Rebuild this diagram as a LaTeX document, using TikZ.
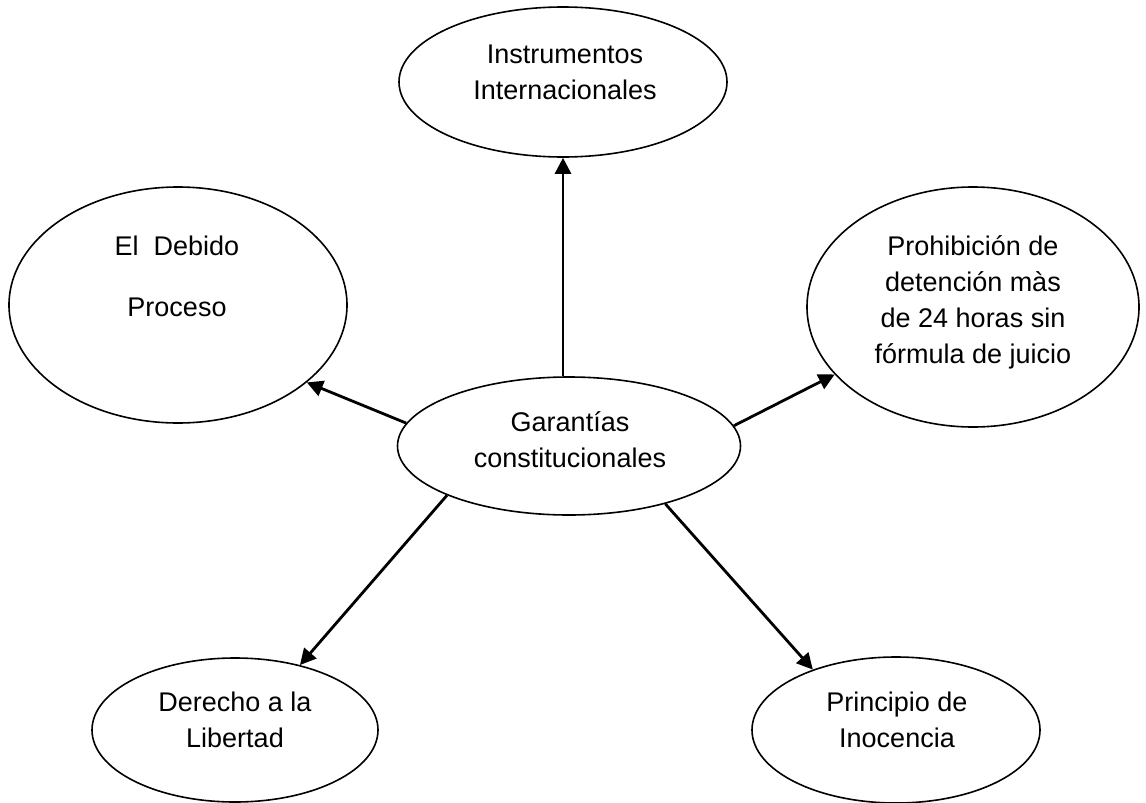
\documentclass[tikz,border=0pt]{standalone}
\usepackage{fontspec}
\setmainfont{Liberation Sans}
\usetikzlibrary{shapes.geometric,arrows.meta}
\tikzset{
  oval/.style={draw, ellipse, line width=0.8pt, inner sep=0pt},
  txt/.style={align=center, font=\fontsize{13.5}{18}\selectfont},
  arr/.style={line width=1.4pt, -{Triangle[length=8pt,width=8pt]}}
}

\begin{document}
\begin{tikzpicture}[x=0.5pt,y=-0.5pt]
  \useasboundingbox (0,0) rectangle (1146,803);
  % ovals
  \node[oval, minimum width=164pt, minimum height=75pt] (instr) at (563,82) {};
  \node[oval, minimum width=169pt, minimum height=118pt] (debido) at (178,305) {};
  \node[oval, minimum width=166pt, minimum height=120pt] (prohib) at (973,307) {};
  \node[oval, minimum width=171.5pt, minimum height=69pt] (garant) at (569,446) {};
  \node[oval, minimum width=143pt, minimum height=72pt] (libertad) at (235,730) {};
  \node[oval, minimum width=144pt, minimum height=73pt] (inocencia) at (896,730) {};
  % texts
  \node[txt] (instr-t) at (565,72) {Instrumentos\\Internacionales};
  \node[txt] (debido-t) at (177,276) {El~~Debido\\[12.5pt]Proceso};
  \node[txt] (prohib-t) at (973,302) {Prohibición de\\detención màs\\de 24 horas sin\\fórmula de juicio};
  \node[txt] (garant-t) at (570,440) {Garantías\\constitucionales};
  \node[txt] (libertad-t) at (235,720) {Derecho a la\\Libertad};
  \node[txt] (inocencia-t) at (897,720) {Principio de\\Inocencia};
  % arrows
  \draw[arr] (garant.north -| instr.south) -- (instr.south);
  \draw[arr] (garant.172) -- (debido.-31);
  \draw[arr] (garant.7) -- (prohib.206);
  \draw[arr] (garant.202) -- (libertad.45);
  \draw[arr] (garant.-31) -- (inocencia.144);
\end{tikzpicture}
\end{document}
